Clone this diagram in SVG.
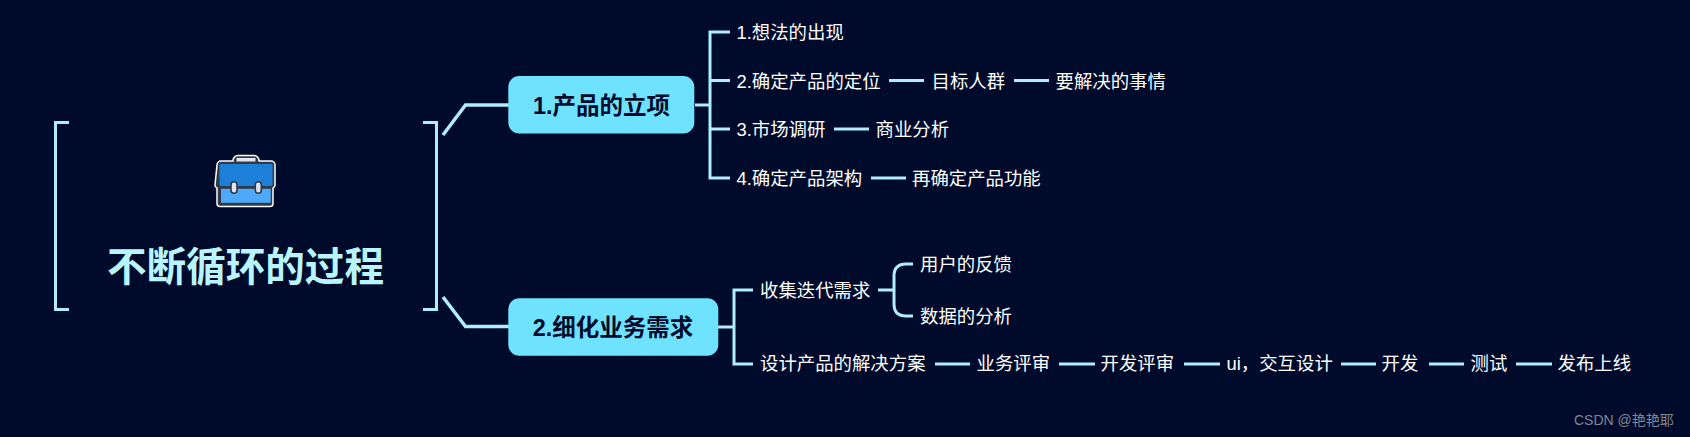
<svg xmlns="http://www.w3.org/2000/svg" width="1690" height="437" viewBox="0 0 1690 437">
<style>
text{font-family:"Liberation Sans","Noto Sans CJK SC",sans-serif}
.t{font-size:18.400px;fill:#fff}
.n{font-size:23.500px;font-weight:700;fill:#000b2c}
.c{fill:none;stroke:#b0edf9;stroke-width:3}
.box{fill:#6ee2ff}
</style>
<rect width="1690" height="437" fill="#000b2c"/>
<g id="connectors" class="c">
<path d="M69 122.500H55.500V309.500H69"/>
<path d="M423 122.500H436.500V309.500H423"/>
<path d="M443 135L465.500 105H510" stroke-width="3.500"/>
<path d="M443 297L465.500 326.500H510" stroke-width="3.500"/>
<path d="M695 105H710M730 32H710V178H730M710 80.500H730M710 129H730"/>
<path d="M889 80.500H924M1014 80.500H1049M834 129H869M871 178H906"/>
<path d="M718 327H734M753 290H734V364H753"/>
<path d="M878 290H894M913 264H906Q894 264 894 276V304Q894 316 906 316H913"/>
<path d="M935 364H970M1059 364H1095M1184 364H1220M1341 364H1376M1429 364H1464M1516 364H1552"/>
</g>
<g id="root">
<g id="icon">
<path d="M217 165a4 4 0 0 1 4-4h12v-.500a5 5 0 0 1 5-5h16a5 5 0 0 1 5 5v.500h12a4 4 0 0 1 4 4v20a3 3 0 0 1-2 3v15.500a3 3 0 0 1-3 3h-50a3 3 0 0 1-3-3v-15.500a3 3 0 0 1-2-3z" fill="#2e3a47" stroke="#fff" stroke-width="1.500"/>
<rect x="236.500" y="158" width="19" height="3.500" fill="#e4e7ef"/>
<rect x="219.500" y="164" width="53" height="22" rx="1" fill="#1e7fd8"/>
<rect x="221" y="188.800" width="49.700" height="14" fill="#4fa9fb"/>
<rect x="231" y="181.700" width="6" height="11.600" rx="3" fill="#dfe3f2" stroke="#2e3a47" stroke-width="1.600"/>
<rect x="255.300" y="181.700" width="6" height="11.600" rx="3" fill="#dfe3f2" stroke="#2e3a47" stroke-width="1.600"/>
</g>
<text x="245.500" y="280.500" text-anchor="middle" font-size="39.600" font-weight="700" fill="#b8f5fc">不断循环的过程</text>
</g>
<g id="n1"><rect class="box" x="508.300" y="76" width="186" height="57.500" rx="11"/><text class="n" x="601.500" y="114" text-anchor="middle">1.产品的立项</text></g>
<g id="n2"><rect class="box" x="508.300" y="298.300" width="210" height="57.500" rx="11"/><text class="n" x="613" y="336" text-anchor="middle">2.细化业务需求</text></g>
<g id="a1"><text class="t" x="736.500" y="39">1.想法的出现</text></g>
<g id="a2"><text class="t" x="736.500" y="88">2.确定产品的定位</text></g>
<g id="a2a"><text class="t" x="931.500" y="88">目标人群</text></g>
<g id="a2b"><text class="t" x="1055.500" y="88">要解决的事情</text></g>
<g id="a3"><text class="t" x="736.500" y="136">3.市场调研</text></g>
<g id="a3a"><text class="t" x="875.500" y="136">商业分析</text></g>
<g id="a4"><text class="t" x="736.500" y="185">4.确定产品架构</text></g>
<g id="a4a"><text class="t" x="912" y="185">再确定产品功能</text></g>
<g id="b1"><text class="t" x="760" y="297">收集迭代需求</text></g>
<g id="b1a"><text class="t" x="920" y="271">用户的反馈</text></g>
<g id="b1b"><text class="t" x="920" y="323">数据的分析</text></g>
<g id="b2"><text class="t" x="760" y="370">设计产品的解决方案</text></g>
<g id="b2a"><text class="t" x="976.500" y="370">业务评审</text></g>
<g id="b2b"><text class="t" x="1100.500" y="370">开发评审</text></g>
<g id="b2c"><text class="t" x="1226.500" y="370">ui，交互设计</text></g>
<g id="b2d"><text class="t" x="1381.500" y="370">开发</text></g>
<g id="b2e"><text class="t" x="1470.500" y="370">测试</text></g>
<g id="b2f"><text class="t" x="1557.500" y="370">发布上线</text></g>
<text x="1574" y="424.500" font-size="14" fill="#7f8796">CSDN @艳艳耶</text>
</svg>
